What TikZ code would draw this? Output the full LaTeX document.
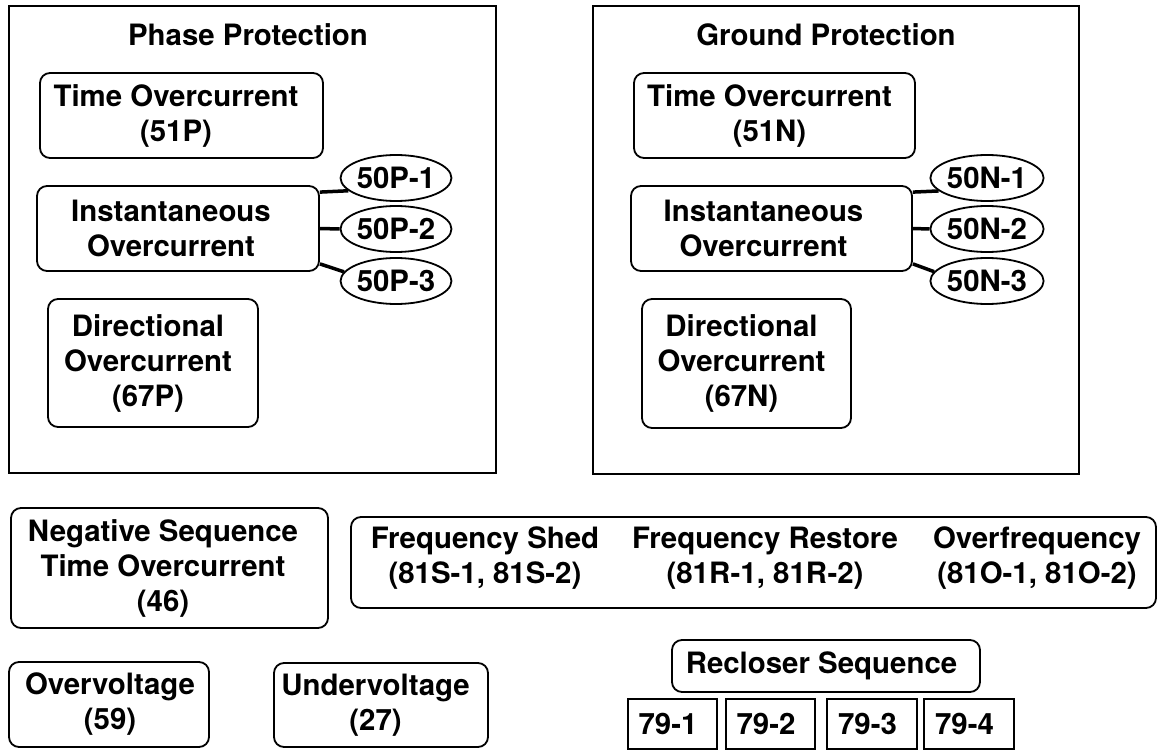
\documentclass[tikz,border=0pt]{standalone}
\usepackage{fontspec}
\setmainfont{TeX Gyre Heros}
\usetikzlibrary{shapes.geometric}
\newcommand\mylbl{\fontsize{29.4}{35}\selectfont\bfseries}
\tikzset{
  frame/.style={draw, line width=1.8pt},
  rbox/.style={draw, rounded corners=10pt, line width=1.8pt, inner sep=0pt},
  sbox/.style={draw, line width=1.5pt, inner sep=0pt},
  txt/.style={font=\mylbl, align=center, inner sep=0pt},
  oval/.style={draw, ellipse, line width=1.8pt, inner sep=0pt, minimum width=108pt, minimum height=46pt, font=\mylbl},
  link/.style={line width=3.5pt}
}
\begin{document}
\begin{tikzpicture}[x=1pt,y=-1pt]
\useasboundingbox (0,0) rectangle (1158,751);

% ---------- Phase Protection ----------
\node[frame, minimum width=487pt, minimum height=467pt] (pframe) at (252.5,239.5) {};
\node[txt] (ptitle) at (248,35) {Phase Protection};
\node[rbox, minimum width=283pt, minimum height=85pt] (ptime) at (181.5,115.5) {};
\node[txt] (ptimeT) at ([xshift=-5.5pt]ptime.center) {Time Overcurrent\\(51P)};
\node[rbox, minimum width=282pt, minimum height=85pt] (pinst) at (178,228.5) {};
\node[txt] (pinstT) at ([xshift=-7pt]pinst.center) {Instantaneous\\Overcurrent};
\node[rbox, minimum width=210pt, minimum height=128pt] (pdir) at (153,363) {};
\node[txt] (pdirT) at ([xshift=-5pt]pdir.center) {Directional\\Overcurrent\\(67P)};
\node[oval] (pe1) at (396,178) {50P-1};
\node[oval] (pe2) at (396,229) {50P-2};
\node[oval] (pe3) at (396,281) {50P-3};
\draw[link] ([yshift=-7pt]pinst.north east) -- (pe1.195);
\draw[link] (pinst.east) -- (pe2.west);
\draw[link] ([yshift=8pt]pinst.south east) -- (pe3.170);

% ---------- Ground Protection ----------
\node[frame, minimum width=486pt, minimum height=468pt] (gframe) at (836,240) {};
\node[txt] (gtitle) at (826,35) {Ground Protection};
\node[rbox, minimum width=281pt, minimum height=85pt] (gtime) at (774.5,115.5) {};
\node[txt] (gtimeT) at ([xshift=-5pt]gtime.center) {Time Overcurrent\\(51N)};
\node[rbox, minimum width=281pt, minimum height=85pt] (ginst) at (771.5,228.5) {};
\node[txt] (ginstT) at ([xshift=-8pt]ginst.center) {Instantaneous\\Overcurrent};
\node[rbox, minimum width=209pt, minimum height=129pt] (gdir) at (746.5,363.5) {};
\node[txt] (gdirT) at ([xshift=-5pt]gdir.center) {Directional\\Overcurrent\\(67N)};
\node[oval] (ge1) at (987,178) {50N-1};
\node[oval] (ge2) at (987,229) {50N-2};
\node[oval] (ge3) at (987,281) {50N-3};
\draw[link] ([yshift=-7pt]ginst.north east) -- (ge1.195);
\draw[link] (ginst.east) -- (ge2.west);
\draw[link] ([yshift=8pt]ginst.south east) -- (ge3.170);

% ---------- Lower part ----------
\node[rbox, minimum width=317pt, minimum height=120pt] (neg) at (169.5,568) {};
\node[txt] (negT) at ([xshift=-6.5pt]neg.center) {Negative Sequence\\Time Overcurrent\\(46)};

\node[rbox, minimum width=805pt, minimum height=91pt] (freq) at (753.5,562.5) {};
\node[txt] (fshed) at (485,558) {Frequency Shed\\(81S-1, 81S-2)};
\node[txt] (frest) at (765,558) {Frequency Restore\\(81R-1, 81R-2)};
\node[txt] (fover) at (1037,558) {Overfrequency\\(81O-1, 81O-2)};

\node[rbox, minimum width=200pt, minimum height=85pt] (ov) at (109,704.5) {};
\node[txt] (ovT) at ([xshift=1pt]ov.center) {Overvoltage\\(59)};
\node[rbox, minimum width=214pt, minimum height=84pt] (uv) at (381,705) {};
\node[txt] (uvT) at ([xshift=-5.5pt]uv.center) {Undervoltage\\(27)};

\node[rbox, minimum width=308pt, minimum height=52pt] (rec) at (826,666) {};
\node[txt] (recT) at ([xshift=-4.5pt]rec.center) {Recloser Sequence};
\node[sbox, minimum width=89pt, minimum height=50pt] (r1) at (672.5,724) {};
\node[txt] (r1T) at ([xshift=-4.5pt]r1.center) {79-1};
\node[sbox, minimum width=89pt, minimum height=50pt] (r2) at (770.5,724) {};
\node[txt] (r2T) at ([xshift=-4.5pt]r2.center) {79-2};
\node[sbox, minimum width=90pt, minimum height=50pt] (r3) at (872,724) {};
\node[txt] (r3T) at ([xshift=-4.5pt]r3.center) {79-3};
\node[sbox, minimum width=90pt, minimum height=50pt] (r4) at (969,724) {};
\node[txt] (r4T) at ([xshift=-4.5pt]r4.center) {79-4};
\end{tikzpicture}
\end{document}
